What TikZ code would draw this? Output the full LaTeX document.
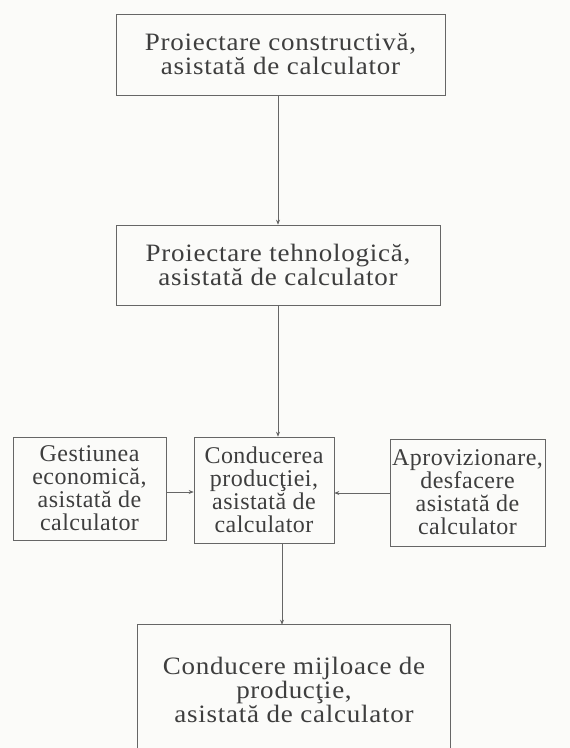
\documentclass[tikz,border=0pt]{standalone}
\usepackage{fontspec}
\setmainfont{Liberation Serif}[FakeStretch=1.08,LetterSpace=3]
\newfontfamily\rowfont{Liberation Serif}[LetterSpace=2]
\usetikzlibrary{arrows.meta,calc}
\definecolor{paper}{HTML}{FBFBF9}
\definecolor{inkgray}{HTML}{3E3E3E}
\definecolor{linegray}{HTML}{666666}
\begin{document}
\begin{tikzpicture}[x=1pt,y=-1pt,
  boxline/.style={draw=linegray,line width=0.6pt},
  box/.style={boxline,align=center,inner sep=0pt,text=inkgray,
    font=\fontsize{25}{24}\selectfont},
  smallbox/.style={box,font=\rowfont\fontsize{24}{23}\selectfont},
  link/.style={draw=linegray,line width=0.6pt,-{Stealth[length=5pt,width=4pt]}}]
  % page
  \fill[paper] (0,0) rectangle (570,748);
  \useasboundingbox (0,0) rectangle (570,748);

  % design stages
  \node[box,minimum width=329pt,minimum height=81pt] (b1) at (280.5,54.5)
    {Proiectare constructivă,\\asistată de calculator};
  \node[box,minimum width=324pt,minimum height=80pt] (b2) at (278,265)
    {Proiectare tehnologică,\\asistată de calculator};

  % middle row
  \node[smallbox,minimum width=153pt,minimum height=103pt] (L) at (89.5,488.5)
    {Gestiunea\\economică,\\asistată de\\calculator};
  \node[smallbox,minimum width=140pt,minimum height=106pt] (M) at (264,490)
    {Conducerea\\producţiei,\\asistată de\\calculator};
  \node[smallbox,minimum width=155pt,minimum height=107pt] (R) at (467.5,492.5)
    {Aprovizionare,\\desfacere\\asistată de\\calculator};

  % bottom box, open at the lower edge of the page
  \node[box,draw=none,minimum width=312pt,minimum height=130pt] (D) at (294,690)
    {Conducere mijloace de\\producţie,\\asistată de calculator};
  \coordinate (pb) at (0,748);
  \draw[boxline] (D.north west |- pb) -- (D.north west) -- (D.north east) -- (D.north east |- pb);

  % connectors
  \coordinate (vx) at (278,0);
  \coordinate (vx2) at (282,0);
  \coordinate (hl) at (0,492);
  \coordinate (hr) at (0,493);
  \draw[link] (b1.south -| vx) -- (b2.north -| vx);
  \draw[link] (b2.south -| vx) -- (M.north -| vx);
  \draw[link] (M.south -| vx2) -- (D.north -| vx2);
  \draw[link] (L.east |- hl) -- (M.west |- hl);
  \draw[link] (R.west |- hr) -- (M.east |- hr);
\end{tikzpicture}
\end{document}
